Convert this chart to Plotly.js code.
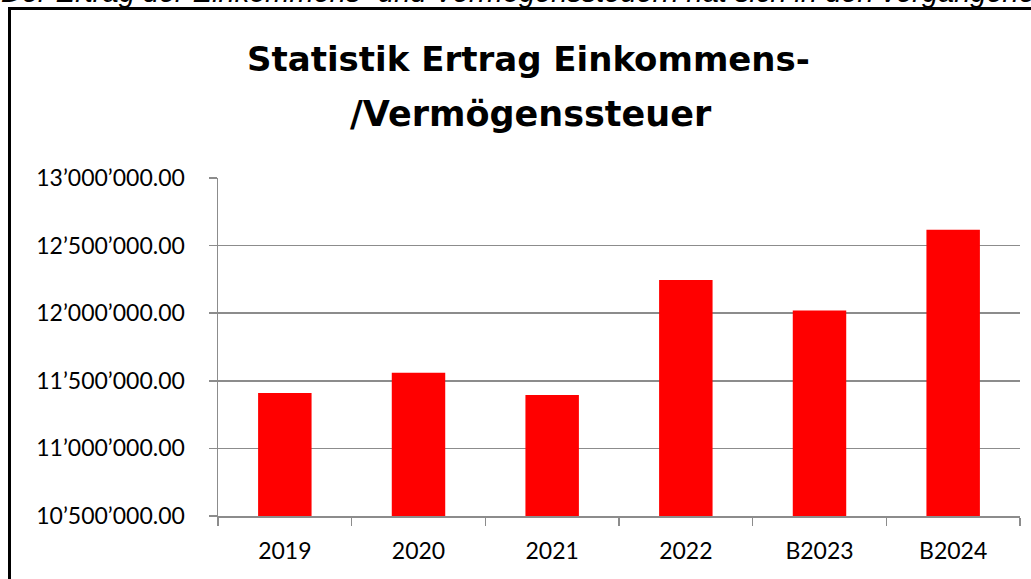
<!DOCTYPE html>
<html>
<head>
<meta charset="utf-8">
<script src="https://cdn.plot.ly/plotly-3.0.1.min.js"></script>
<style>html,body{margin:0;padding:0;background:#fff;}#chart{width:1031px;height:579px;}</style>
</head>
<body>
<div id="chart"></div>
<script>
const categories = ["2019", "2020", "2021", "2022", "B2023", "B2024"];
const ertrag = [11410000, 11560000, 11395000, 12245000, 12020000, 12617000];
const yTickVals = [10500000, 11000000, 11500000, 12000000, 12500000, 13000000];
const yTickText = ["10’500’000.00", "11’000’000.00", "11’500’000.00", "12’000’000.00", "12’500’000.00", "13’000’000.00"];
const titleLine1 = "Statistik Ertrag Einkommens-";
const titleLine2 = "/Vermögenssteuer";
const introText = "Der Ertrag der Einkommens- und Vermögenssteuern hat sich in den vergangenen Jahren positiv entwickelt.";

const W = 1031, H = 579;
const M = {l: 218, r: 11, t: 178, b: 63};
const PW = W - M.l - M.r, PH = H - M.t - M.b;
const px = x => (x - M.l) / PW;
const py = y => 1 - (y - M.t) / PH;

const font = "Lato, 'Open Sans', sans-serif";
const titleFont = "'DejaVu Sans', Lato, sans-serif";

const trace = {
  type: "bar",
  x: categories,
  y: ertrag,
  marker: {color: "#ff0000"},
  hoverinfo: "x+y"
};

const layout = {
  width: W, height: H,
  margin: M,
  paper_bgcolor: "#ffffff",
  plot_bgcolor: "#ffffff",
  showlegend: false,
  bargap: 0.6,
  font: {family: font, color: "#000000", size: 23},
  xaxis: {
    type: "category",
    showgrid: false,
    showline: true,
    linecolor: "#8c8c8c",
    linewidth: 1.5,
    ticks: "outside",
    tickson: "boundaries",
    ticklen: 8,
    tickwidth: 1.5,
    tickcolor: "#8c8c8c",
    tickfont: {family: font, size: 23, color: "#000"},
    ticklabelstandoff: 14
  },
  yaxis: {
    range: [10500000, 13000000],
    tickvals: yTickVals,
    ticktext: yTickText,
    showgrid: true,
    gridcolor: "#8c8c8c",
    gridwidth: 1.5,
    showline: true,
    linecolor: "#8c8c8c",
    linewidth: 1.5,
    ticks: "outside",
    ticklen: 8,
    tickwidth: 1.5,
    tickcolor: "#8c8c8c",
    tickfont: {family: font, size: 23, color: "#000"},
    ticklabelstandoff: 19,
    zeroline: false
  },
  shapes: [{
    type: "rect", xref: "paper", yref: "paper",
    x0: px(9.5), x1: px(1060), y0: py(600), y1: py(8.5),
    line: {color: "#000000", width: 3},
    fillcolor: "rgba(0,0,0,0)",
    layer: "above"
  }],
  annotations: [
    {text: introText, xref: "paper", yref: "paper", x: px(-1), y: py(-8), xanchor: "left", yanchor: "middle",
     showarrow: false, font: {family: "'Liberation Sans', Arial, sans-serif", size: 29, style: "italic", color: "#000"}},
    {text: "<b>" + titleLine1 + "</b>", xref: "paper", yref: "paper", x: px(528), y: py(58.5), xanchor: "center", yanchor: "middle",
     showarrow: false, font: {family: titleFont, size: 34, color: "#000"}},
    {text: "<b>" + titleLine2 + "</b>", xref: "paper", yref: "paper", x: px(531), y: py(114), xanchor: "center", yanchor: "middle",
     showarrow: false, font: {family: titleFont, size: 35, color: "#000"}}
  ]
};

Plotly.newPlot("chart", [trace], layout, {displayModeBar: false, staticPlot: true});
</script>
</body>
</html>
